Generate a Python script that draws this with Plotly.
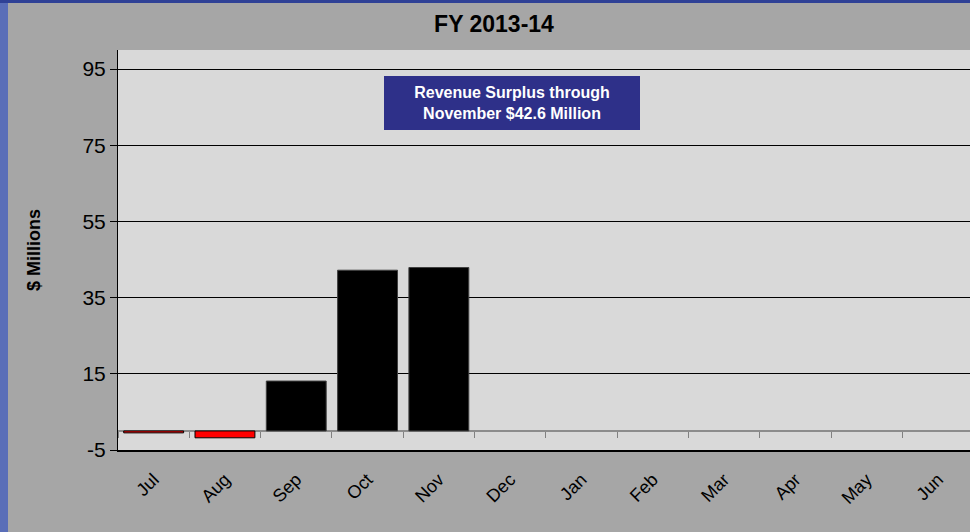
import plotly.graph_objects as go

months = ["Jul", "Aug", "Sep", "Oct", "Nov", "Dec", "Jan", "Feb", "Mar", "Apr", "May", "Jun"]
surplus = [-0.5, -1.8, 13.1, 42.2, 42.9, None, None, None, None, None, None, None]
y_ticks = [-5, 15, 35, 55, 75, 95]
y_tick_text = ["-5", "15", "35", "55", "75", "95"]
title_text = "FY 2013-14"
note_text = "Revenue Surplus through<br>November $42.6 Million"

W, H = 970, 532
ML, MR, MT, MB = 118, 0, 50, 82
PW, PH = W - ML - MR, H - MT - MB

def px_x(p):
    return (p - ML) / PW

def px_y(p):
    return (H - MB - p) / PH

colors = ["#FF0000" if (v is not None and v < 0) else "#000000" for v in surplus]
line_colors = ["#000000" if (v is not None and v < 0) else "#404040" for v in surplus]

fig = go.Figure()
fig.add_trace(go.Bar(
    x=months, y=surplus,
    marker=dict(color=colors, line=dict(color=line_colors, width=1)),
    hoverinfo="x+y", showlegend=False,
))
# invisible helper trace for the tick marks on the zero-crossing axis
fig.add_trace(go.Scatter(x=months, y=[0] * len(months), xaxis="x2", mode="markers",
                         marker=dict(opacity=0), showlegend=False, hoverinfo="skip"))

yr = [-5, 100]
zero_pos = (0 - yr[0]) / (yr[1] - yr[0])
xr = [-0.5, -0.5 + PW / 71.3]

fig.update_layout(
    width=W, height=H,
    margin=dict(l=ML, r=MR, t=MT, b=MB, pad=0),
    paper_bgcolor="#A6A6A6",
    plot_bgcolor="#D9D9D9",
    bargap=0.16,
    font=dict(family="Liberation Sans, Arial, sans-serif", color="#000000"),
    title=dict(text="<b>" + title_text + "</b>", x=px_x(494), xref="paper", xanchor="center",
               y=1 - 24 / H, yanchor="middle", font=dict(size=23, color="#000000")),
    xaxis=dict(
        categoryorder="array", categoryarray=months,
        range=xr,
        showgrid=False, zeroline=False,
        showline=True, linecolor="#000000", linewidth=2,
        ticks="", tickangle=-45, tickfont=dict(size=18),
        ticklabelstandoff=10,
        fixedrange=True,
    ),
    xaxis2=dict(
        overlaying="x", anchor="free", position=zero_pos,
        categoryorder="array", categoryarray=months,
        range=xr,
        showgrid=False, zeroline=False, showline=False,
        showticklabels=False, ticks="outside", tickson="boundaries",
        ticklen=6, tickcolor="#808080", tickwidth=1,
    ),
    yaxis=dict(
        range=yr, tickmode="array", tickvals=y_ticks, ticktext=y_tick_text,
        showgrid=True, gridcolor="#000000", gridwidth=1,
        zeroline=True, zerolinecolor="#8C8C8C", zerolinewidth=2,
        showline=True, linecolor="#000000", linewidth=1,
        ticks="outside", ticklen=7, tickcolor="#000000",
        tickfont=dict(size=21),
        title=dict(text="<b>$ Millions</b>", font=dict(size=18), standoff=37),
        fixedrange=True,
    ),
    annotations=[dict(
        text="<b>" + note_text + "</b>",
        xref="paper", yref="paper",
        x=px_x(512), y=px_y(103), xanchor="center", yanchor="middle",
        showarrow=False, align="center",
        font=dict(size=16, color="#FFFFFF"),
        bgcolor="#2E3089", bordercolor="#2E3089", borderwidth=0,
        width=250, height=48, borderpad=3,
    )],
    shapes=[
        dict(type="rect", xref="paper", yref="paper", layer="above",
             x0=px_x(0), x1=px_x(8), y0=px_y(H), y1=px_y(0),
             fillcolor="#5A6EB8", line=dict(width=0)),
        dict(type="rect", xref="paper", yref="paper", layer="above",
             x0=px_x(0), x1=px_x(W), y0=px_y(3), y1=px_y(0),
             fillcolor="#2F4196", line=dict(width=0)),
    ],
)

fig.write_html("out.html", config={"displayModeBar": False},
               post_script="document.body.style.margin='0';document.body.style.overflow='hidden';")
